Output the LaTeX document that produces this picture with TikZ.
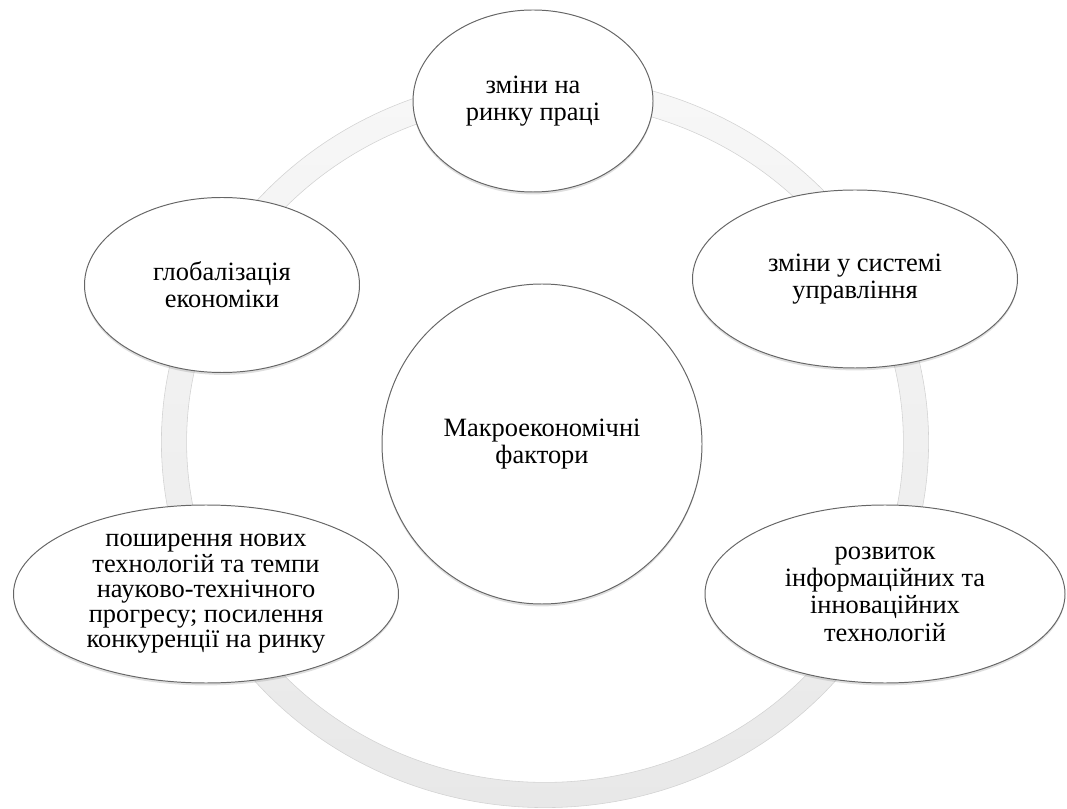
\documentclass[tikz,border=0pt]{standalone}
\usepackage{fontspec}
\setmainfont{LiberationSerif}[Extension=.ttf, UprightFont=*-Regular]
\usetikzlibrary{shapes.geometric,shadows}

\begin{document}
\begin{tikzpicture}[
  every node/.style={font=\fontsize{18.8}{19.4}\selectfont},
  factor/.style={
    ellipse,
    draw=gray!80!black,
    line width=0.7pt,
    fill=white,
    align=center,
    inner sep=0pt,
    drop shadow={opacity=0.25, shadow xshift=0pt, shadow yshift=-0.06cm}
  }
]
  % Page
  \useasboundingbox (0,0) rectangle (26.675,20.2);

  % Ring
  \coordinate (hub) at (13.625,9.15);
  \shade[top color=gray!6, bottom color=gray!18, even odd rule]
    (hub) ellipse (9.59 and 9.14) (hub) ellipse (8.96 and 8.51);
  \draw[gray!35, line width=0.4pt] (hub) ellipse (9.59 and 9.14);
  \draw[gray!35, line width=0.4pt] (hub) ellipse (8.96 and 8.51);

  % Centre
  \node[factor, circle, minimum size=8cm] (core) at (13.55,9.1)
    {Макроекономічні\\фактори};

  % Factors round the ring
  \node[factor, minimum width=6cm, minimum height=4.55cm] (labour) at (13.325,17.675)
    {зміни на\\ринку праці};

  \node[factor, minimum width=8.125cm, minimum height=4.45cm] (mgmt) at (21.375,13.225)
    {зміни у системі\\управління};

  \node[factor, minimum width=9cm, minimum height=4.45cm] (itech) at (22.125,5.35)
    {розвиток\\інформаційних та\\інноваційних\\технологій};

  \node[factor, minimum width=9.625cm, minimum height=4.45cm,
    font=\fontsize{18.8}{18}\selectfont] (tech) at (5.15,5.35)
    {поширення нових\\технологій та темпи\\науково-технічного\\прогресу; посилення\\конкуренції на ринку};

  \node[factor, minimum width=6.875cm, minimum height=4.375cm] (global) at (5.55,13.075)
    {глобалізація\\економіки};
\end{tikzpicture}
\end{document}
